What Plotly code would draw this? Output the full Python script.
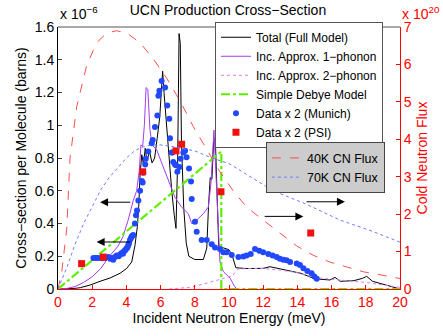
import plotly.graph_objects as go

# ---- model curves (cross-section, units of 1e-6 barns) ----
total_x = [0, 0.5, 1.0, 1.3, 1.87, 2.46, 3.04, 3.63, 4.02, 4.31, 4.5, 4.64, 4.72, 4.8, 4.9, 5.0, 5.1, 5.2, 5.35, 5.5,
           5.65, 5.8, 5.95, 6.05, 6.12, 6.2, 6.35, 6.5, 6.65, 6.8, 6.9, 7.0, 7.08, 7.15, 7.22, 7.35, 7.5, 7.65, 8.0, 8.5,
           8.7, 8.8, 8.9, 9.0, 9.1, 9.2, 9.3, 9.4, 9.7, 10.0, 10.2, 10.4, 11.0, 12.0, 12.4, 13.4, 14.2, 14.9, 15.3,
           15.9, 16.2, 16.5, 17.3, 17.8, 18.05, 18.4, 19.2, 19.8, 20.0]
total_y = [0, 0.001, 0.004, 0.008, 0.024, 0.047, 0.067, 0.096, 0.126, 0.165, 0.265, 0.38, 0.5, 0.7, 0.82, 0.76, 0.86,
           0.78, 0.84, 0.77, 0.8, 0.92, 1.05, 1.22, 1.33, 1.2, 1.0, 0.75, 0.6, 0.45, 0.37, 0.8, 1.56, 1.5, 0.9, 0.5,
           0.28, 0.2, 0.18, 0.18, 0.25, 0.5, 0.68, 0.67, 0.9, 0.92, 0.5, 0.26, 0.25, 0.24, 0.2, 0.13, 0.125, 0.126,
           0.136, 0.116, 0.096, 0.067, 0.06, 0.055, 0.071, 0.047, 0.051, 0.065, 0.077, 0.047, 0.024, 0.003, 0]

one_ph_x = [0, 0.5, 1.0, 1.5, 2.0, 2.5, 3.0, 3.5, 3.8, 4.1, 4.4, 4.6, 4.75, 4.85, 4.95, 5.05, 5.15, 5.25, 5.38, 5.5,
            5.77, 5.96, 6.26, 6.55, 6.84, 7.23, 7.62, 7.82, 8.0, 8.2, 8.5, 8.79, 8.95, 9.12, 9.25, 9.38, 9.47, 9.67,
            10.06, 10.3, 10.45]
one_ph_y = [0, 0.003, 0.015, 0.04, 0.075, 0.125, 0.2, 0.26, 0.32, 0.42, 0.54, 0.6, 0.72, 0.88, 0.87, 1.0, 1.23, 1.22,
            0.97, 0.88, 0.85, 0.8, 0.72, 0.64, 0.56, 0.5, 0.46, 0.4, 0.4, 0.43, 0.46, 0.5, 0.65, 0.97, 0.65, 0.38,
            0.165, 0.106, 0.067, 0.02, 0]

two_ph_x = [6.5, 7.0, 7.7, 8.5, 9.1, 9.6, 10.2, 10.5, 11.0, 12.0, 13.0, 14.0, 15.0, 16.0, 17.0, 18.0, 19.0, 20.0]
two_ph_y = [0, 0.003, 0.01, 0.03, 0.047, 0.06, 0.08, 0.12, 0.125, 0.125, 0.115, 0.1, 0.07, 0.06, 0.05, 0.04, 0.025, 0.01]

debye_x = [0, 9.55, 9.55, 20]
debye_y = [0, 0.84, 0, 0]

# ---- measured data (x 2) ----
munich_x = [2.07, 2.2, 2.3, 2.46, 2.6, 2.75, 2.94, 3.05, 3.14, 3.23, 3.33, 3.43, 3.55, 3.63, 3.72, 3.8, 3.86, 3.92,
            3.98, 4.03, 4.07, 4.12, 4.15, 4.21, 4.26, 4.31, 4.36, 4.4, 4.5, 4.56, 4.62, 4.7, 4.8, 4.9, 4.95, 4.99,
            5.1, 5.13, 5.28, 5.48, 5.54, 5.67, 5.81, 5.87, 5.93, 6.06, 6.26, 6.39, 6.51, 6.55, 6.65, 6.69, 6.74,
            6.84, 6.9, 6.98, 7.1, 7.17, 7.33, 7.43, 7.52, 7.66, 7.78, 7.82, 8.01, 8.11, 8.4, 8.7, 8.99, 9.18, 9.47,
            9.67, 9.86, 10.16, 10.55, 10.84, 11.03, 11.27, 11.52, 11.77, 12.0, 12.3, 12.55, 12.79, 12.98, 13.18,
            13.37, 13.57, 13.96, 14.15, 14.35, 14.58, 14.83, 14.99, 15.13]
munich_y = [0.19, 0.19, 0.19, 0.19, 0.188, 0.19, 0.195, 0.185, 0.19, 0.178, 0.195, 0.205, 0.2, 0.21, 0.22, 0.215,
            0.23, 0.235, 0.245, 0.25, 0.256, 0.27, 0.28, 0.3, 0.31, 0.32, 0.325, 0.33, 0.4, 0.45, 0.48, 0.54, 0.6,
            0.66, 0.65, 0.71, 0.76, 0.795, 0.84, 0.89, 0.91, 0.99, 1.06, 1.18, 1.21, 1.27, 1.23, 1.12, 1.04, 0.92,
            0.834, 0.834, 0.775, 0.76, 0.756, 0.716, 0.745, 0.795, 0.834, 0.844, 0.805, 0.736, 0.657, 0.55, 0.41,
            0.35, 0.3, 0.3, 0.273, 0.254, 0.244, 0.224, 0.224, 0.208, 0.195, 0.199, 0.205, 0.214, 0.244, 0.234,
            0.224, 0.214, 0.205, 0.195, 0.185, 0.179, 0.175, 0.165, 0.155, 0.146, 0.126, 0.11, 0.096, 0.077, 0.063]

psi_x = [1.38, 2.65, 4.95, 6.9, 7.23, 9.53, 14.78]
psi_y = [0.155, 0.195, 0.716, 0.844, 0.884, 0.594, 0.342]

# ---- cold neutron flux (units of 1e20) ----
flux40_x = [0, 0.22, 0.51, 0.7, 1.09, 1.68, 2.26, 2.85, 3.43, 4.02, 4.8, 5.57, 6.36, 7.13, 7.91, 8.7, 9.47, 10.25,
            11.03, 12.0, 12.98, 13.96, 14.93, 15.9, 16.88, 17.85, 18.83, 19.6, 20.0]
flux40_y = [0, 0.46, 1.6, 3.48, 4.86, 5.98, 6.58, 6.84, 6.9, 6.84, 6.58, 6.15, 5.63, 5.03, 4.34, 3.74, 3.13, 2.62,
            2.19, 1.84, 1.5, 1.15, 0.9, 0.72, 0.59, 0.46, 0.38, 0.31, 0.28]

flux70_x = [0, 0.5, 1.0, 1.5, 2.0, 2.5, 3.0, 3.5, 4.0, 4.5, 5.0, 5.5, 6.0, 6.5, 7.0, 8.0, 9.0, 10.0, 11.0, 12.0,
            12.6, 14.5, 16.5, 18.4, 19.8, 20.0]
flux70_y = [0, 0.55, 1.2, 1.75, 2.2, 2.65, 2.98, 3.25, 3.5, 3.7, 3.8, 3.85, 3.85, 3.82, 3.78, 3.69, 3.5, 3.35, 3.07,
            2.8, 2.62, 2.27, 1.84, 1.54, 1.28, 1.25]

font = "Liberation Sans, Arial, Helvetica, sans-serif"

fig = go.Figure()
fig.add_trace(go.Scatter(x=total_x, y=total_y, mode="lines", name="Total (Full Model)",
                         line=dict(color="black", width=1)))
fig.add_trace(go.Scatter(x=one_ph_x, y=one_ph_y, mode="lines", name="Inc. Approx. 1\u2212phonon",
                         line=dict(color="#a33cf0", width=1)))
fig.add_trace(go.Scatter(x=two_ph_x, y=two_ph_y, mode="lines", name="Inc. Approx. 2\u2212phonon",
                         line=dict(color="#d37cff", width=1, dash="dot")))
fig.add_trace(go.Scatter(x=debye_x, y=debye_y, mode="lines", name="Simple Debye Model",
                         line=dict(color="#5cf000", width=2.2, dash="dashdot")))
fig.add_trace(go.Scatter(x=munich_x, y=munich_y, mode="markers", name="Data x 2 (Munich)",
                         marker=dict(color="#2148ff", size=6, symbol="circle")))
fig.add_trace(go.Scatter(x=psi_x, y=psi_y, mode="markers", name="Data x 2 (PSI)",
                         marker=dict(color="#f01010", size=7, symbol="square")))
fig.add_trace(go.Scatter(x=flux40_x, y=flux40_y, mode="lines", name="40K CN Flux", yaxis="y2", legend="legend2",
                         line=dict(color="#ff4d4d", width=1, dash="dash")))
fig.add_trace(go.Scatter(x=flux70_x, y=flux70_y, mode="lines", name="70K CN Flux", yaxis="y2", legend="legend2",
                         line=dict(color="#6b7bff", width=1, dash="dot")))

arrows = [
    dict(x=2.46, y=0.53, ax=4.31, ay=0.53, xref="x", yref="y", axref="x", ayref="y"),
    dict(x=2.26, y=0.287, ax=4.31, ay=0.287, xref="x", yref="y", axref="x", ayref="y"),
    dict(x=14.35, y=1.94, ax=12.0, ay=1.94, xref="x", yref="y2", axref="x", ayref="y2"),
    dict(x=16.78, y=2.33, ax=14.45, ay=2.33, xref="x", yref="y2", axref="x", ayref="y2"),
]
for a in arrows:
    fig.add_annotation(text="", showarrow=True, arrowhead=2, arrowsize=1.6, arrowwidth=1, arrowcolor="black", **a)

fig.add_annotation(text="x 10<sup>\u22126</sup>", xref="paper", yref="paper", x=0, y=1.01,
                   xanchor="left", yanchor="bottom", showarrow=False, font=dict(size=14, color="black"))
fig.add_annotation(text="x 10<sup>20</sup>", xref="paper", yref="paper", x=1.0, y=1.01,
                   xanchor="left", yanchor="bottom", showarrow=False, font=dict(size=14, color="red"))

fig.add_shape(type="line", xref="paper", yref="paper", x0=0, x1=1, y0=1, y1=1,
              line=dict(color="#555555", width=1))

fig.update_layout(
    width=443, height=336,
    margin=dict(l=58, r=43, t=27, b=38),
    paper_bgcolor="white", plot_bgcolor="white",
    font=dict(family=font, size=14, color="black"),
    title=dict(text="UCN Production Cross\u2212Section", x=0.497, xref="paper", y=0.97, yanchor="middle",
               font=dict(size=14)),
    xaxis=dict(range=[0, 20], dtick=2, ticks="inside", ticklen=4, tickcolor="red", showline=True,
               linecolor="red", showgrid=False, zeroline=False, tickfont=dict(color="red", size=14),
               title=dict(text="Incident Neutron Energy (meV)", standoff=4, font=dict(size=14))),
    yaxis=dict(range=[0, 1.6], dtick=0.2, ticks="inside", ticklen=4, showline=True, linecolor="black",
               showgrid=False, zeroline=False, tickfont=dict(size=14),
               title=dict(text="Cross\u2212section per Molecule (barns)", standoff=4, font=dict(size=14))),
    yaxis2=dict(range=[0, 7], dtick=1, overlaying="y", side="right", ticks="inside", ticklen=4, tickcolor="red",
                showline=True, linecolor="red", showgrid=False, zeroline=False,
                tickfont=dict(color="red", size=14),
                title=dict(text="Cold Neutron Flux", standoff=6, font=dict(color="red", size=14))),
    legend=dict(x=0.459, y=1.02, xanchor="left", yanchor="top", bgcolor="white", bordercolor="#555555",
                borderwidth=1, font=dict(size=12), tracegroupgap=0, itemwidth=30),
    legend2=dict(x=0.608, y=0.56, xanchor="left", yanchor="top", bgcolor="#cccccc", bordercolor="#444444",
                 borderwidth=1, font=dict(size=12.5), itemwidth=30),
)

fig.write_html("out.html", config={"displayModeBar": False},
               post_script="document.body.style.margin='0';")
